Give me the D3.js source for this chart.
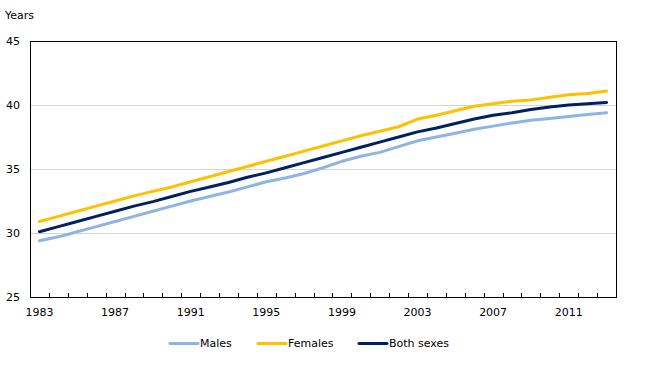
<!DOCTYPE html>
<html>
<head>
<meta charset="utf-8">
<script src="https://cdn.jsdelivr.net/npm/d3@7"></script>
<style>
  html, body { margin: 0; padding: 0; background: #fff; }
  svg { display: block; font-family: "DejaVu Sans", Verdana, sans-serif; }
</style>
</head>
<body>
<svg id="chart" width="666" height="379"></svg>
<script>
const years = d3.range(1983, 2014);
const tickLabels = ["1983", "1987", "1991", "1995", "1999", "2003", "2007", "2011"];
const yTicks = [25, 30, 35, 40, 45];

const males = [29.4, 29.7, 30.1, 30.5, 30.9, 31.3, 31.7, 32.1, 32.5, 32.85,
  33.2, 33.6, 34.0, 34.3, 34.65, 35.1, 35.6, 36.0, 36.3, 36.75,
  37.2, 37.5, 37.8, 38.1, 38.35, 38.6, 38.8, 38.95, 39.1, 39.25, 39.4];
const females = [30.9, 31.3, 31.7, 32.1, 32.5, 32.9, 33.25, 33.6, 34.0, 34.4,
  34.8, 35.2, 35.6, 36.0, 36.4, 36.8, 37.2, 37.6, 37.95, 38.3,
  38.9, 39.2, 39.55, 39.9, 40.1, 40.3, 40.4, 40.6, 40.8, 40.9, 41.1];
const both = [30.1, 30.5, 30.9, 31.3, 31.7, 32.1, 32.45, 32.85, 33.25, 33.6,
  33.95, 34.35, 34.7, 35.1, 35.5, 35.9, 36.3, 36.7, 37.1, 37.5,
  37.9, 38.2, 38.55, 38.9, 39.2, 39.4, 39.65, 39.85, 40.0, 40.1, 40.2];

const seriesNames = ["Males", "Females", "Both sexes"];
const seriesColors = ["#8db4e2", "#ffc000", "#002060"];
const seriesData = [males, females, both];

const svg = d3.select("#chart");
const L = 30, R = 616, T = 41, B = 297;

const x = d3.scaleBand().domain(years).range([L, R]);
const y = d3.scaleLinear().domain([25, 45]).range([B, T]);

// gridlines
svg.append("g").selectAll("line").data(yTicks.filter(d => d > 25 && d < 45)).join("line")
  .attr("x1", L).attr("x2", R)
  .attr("y1", d => Math.round(y(d)) + 0.5).attr("y2", d => Math.round(y(d)) + 0.5)
  .attr("stroke", "#d4d4d4").attr("stroke-width", 1);

// y labels
svg.append("g").selectAll("text").data(yTicks).join("text")
  .attr("x", 20).attr("y", d => y(d))
  .attr("text-anchor", "end").attr("dominant-baseline", "central")
  .attr("font-size", 11).attr("fill", "#000")
  .text(d => d);

svg.append("text").attr("x", 5).attr("y", 19).attr("font-size", 11).attr("fill", "#000").text("Years");

// x ticks at band boundaries (inside)
const bounds = years.map(d => x(d)).concat([R]);
svg.append("g").selectAll("line").data(bounds).join("line")
  .attr("x1", d => Math.round(d) + 0.5).attr("x2", d => Math.round(d) + 0.5)
  .attr("y1", B - 4).attr("y2", B)
  .attr("stroke", "#000").attr("stroke-width", 1);

// x labels
svg.append("g").selectAll("text").data(tickLabels).join("text")
  .attr("x", d => x(+d) + x.bandwidth() / 2).attr("y", B + 19)
  .attr("text-anchor", "middle").attr("font-size", 11).attr("fill", "#000")
  .text(d => d);

// frame
svg.append("rect").attr("x", L + 0.5).attr("y", T + 0.5)
  .attr("width", R - L).attr("height", B - T)
  .attr("fill", "none").attr("stroke", "#000").attr("stroke-width", 1);

// lines
const line = d3.line()
  .x((d, i) => x(years[i]) + x.bandwidth() / 2)
  .y(d => y(d));

svg.append("g").selectAll("path").data(seriesData).join("path")
  .attr("d", d => line(d))
  .attr("fill", "none")
  .attr("stroke", (d, i) => seriesColors[i])
  .attr("stroke-width", 3)
  .attr("stroke-linejoin", "round")
  .attr("stroke-linecap", "round");

// legend
const legendX = [170, 258, 359];
const legendY = 343.5;
const lg = svg.append("g").selectAll("g").data(seriesNames).join("g");
lg.append("line")
  .attr("x1", (d, i) => legendX[i]).attr("x2", (d, i) => legendX[i] + 28)
  .attr("y1", legendY).attr("y2", legendY)
  .attr("stroke", (d, i) => seriesColors[i]).attr("stroke-width", 3)
  .attr("stroke-linecap", "round");
lg.append("text")
  .attr("x", (d, i) => legendX[i] + 30).attr("y", legendY)
  .attr("dominant-baseline", "central")
  .attr("font-size", 11).attr("fill", "#000")
  .text(d => d);
</script>
</body>
</html>
